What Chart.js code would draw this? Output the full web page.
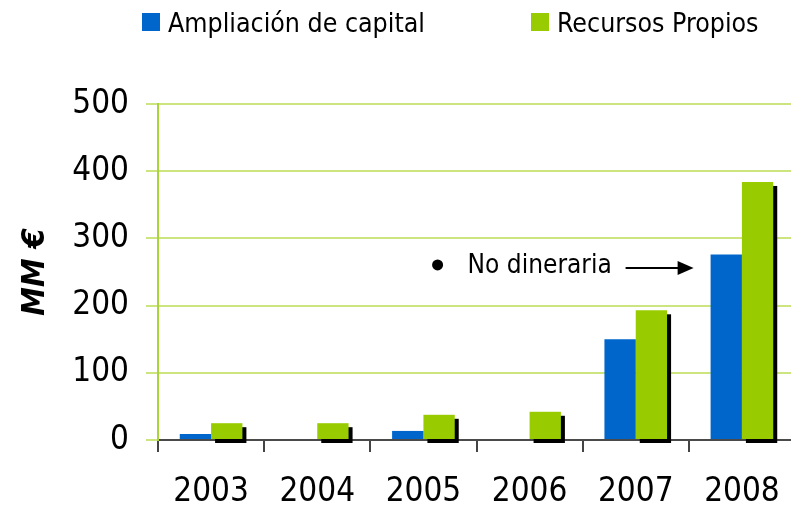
<!DOCTYPE html>
<html>
<head>
<meta charset="utf-8">
<script src="https://cdn.jsdelivr.net/npm/chart.js@4"></script>
<style>
    html, body { margin: 0; padding: 0; background: #fff; overflow: hidden; }
    #caja { position: relative; width: 791px; height: 508px; }
    #leyenda { position: absolute; top: 6px; left: 0; width: 791px; height: 34px;
               font-family: "DejaVu Sans Condensed", "DejaVu Sans", sans-serif; font-size: 26.5px; color: #000; }
    .item { position: absolute; top: 0; display: flex; align-items: center; height: 32px; }
    .cuadro { width: 18px; height: 18px; margin-right: 8px; }
</style>
</head>
<body>
<div id="caja">
    <canvas id="grafico" width="791" height="508"></canvas>
    <div id="leyenda"></div>
</div>
<script>
    // datos del grafico
    var anios = ['2003', '2004', '2005', '2006', '2007', '2008'];
    var ampliacionCapital = [9, null, 13.5, null, 150, 276];
    var recursosPropios = [25, 25, 37.5, 42, 193, 384];
    var ticksY = [0, 100, 200, 300, 400, 500];
    var nombresSeries = ['Ampliación de capital', 'Recursos Propios'];
    var coloresSeries = ['#0066cc', '#99cc00'];
    var notaTexto = 'No dineraria';
    var notaValor = 259;

    var fuente = '"DejaVu Sans Condensed", "DejaVu Sans", sans-serif';

    // leyenda en html
    var posLeyenda = [142, 531];
    nombresSeries.forEach(function (nombre, i) {
        document.getElementById('leyenda').innerHTML += `
            <div class="item" style="left:${posLeyenda[i]}px">
                <div class="cuadro" style="background:${coloresSeries[i]}"></div>
                <span>${nombre}</span>
            </div>`;
    });

    // el area del grafico sigue unos pixeles mas alla del borde derecho
    const extender = {
        id: 'extender',
        afterLayout(chart) {
            const derecha = chart.width + 4;
            chart.chartArea.right = derecha;
            chart.chartArea.width = derecha - chart.chartArea.left;
            const x = chart.scales.x;
            x.right = derecha;
            x.width = derecha - x.left;
            x.configure();
        }
    };

    // sombra negra detras de las barras verdes
    const sombra = {
        id: 'sombra',
        beforeDatasetDraw(chart, args) {
            if (args.index != 1) return;
            const ctx = chart.ctx;
            ctx.save();
            ctx.fillStyle = '#000';
            args.meta.data.forEach(function (bar) {
                const p = bar.getProps(['x', 'y', 'base', 'width'], true);
                ctx.fillRect(p.x - p.width / 2 + 4, p.y + 4, p.width, p.base - p.y);
            });
            ctx.restore();
        }
    };

    // nota "No dineraria" con flecha
    const nota = {
        id: 'nota',
        afterDatasetsDraw(chart) {
            const ctx = chart.ctx;
            const y = chart.scales.y.getPixelForValue(notaValor);
            const barra = chart.getDatasetMeta(0).data[5];
            const fin = barra.x - barra.width / 2 - 17;
            ctx.save();
            ctx.fillStyle = '#000';
            ctx.strokeStyle = '#000';
            ctx.beginPath();
            ctx.arc(fin - 256, y - 1, 5.5, 0, Math.PI * 2);
            ctx.fill();
            ctx.font = '26px ' + fuente;
            ctx.textBaseline = 'middle';
            ctx.fillText(notaTexto, fin - 226, y);
            ctx.lineWidth = 2;
            ctx.beginPath();
            ctx.moveTo(fin - 68, y + 2);
            ctx.lineTo(fin - 14, y + 2);
            ctx.stroke();
            ctx.beginPath();
            ctx.moveTo(fin, y + 2);
            ctx.lineTo(fin - 16, y - 5);
            ctx.lineTo(fin - 16, y + 9);
            ctx.closePath();
            ctx.fill();
            ctx.restore();
        }
    };

    const config = {
        type: 'bar',
        data: {
            labels: anios,
            datasets: [{
                label: nombresSeries[0],
                data: ampliacionCapital,
                backgroundColor: coloresSeries[0],
                categoryPercentage: 0.59,
                barPercentage: 1
            }, {
                label: nombresSeries[1],
                data: recursosPropios,
                backgroundColor: coloresSeries[1],
                categoryPercentage: 0.59,
                barPercentage: 1
            }]
        },
        options: {
            responsive: false,
            animation: false,
            layout: { padding: { top: 104, right: 1, left: 0, bottom: 0 } },
            plugins: { legend: { display: false }, tooltip: { enabled: false } },
            scales: {
                x: {
                    afterFit: function (scale) { scale.height = 68; },
                    border: { color: '#4a4a4a', width: 2 },
                    grid: { offset: true, drawOnChartArea: false, color: '#444', lineWidth: 2, tickLength: 12 },
                    ticks: { color: '#000', font: { family: fuente, size: 33 }, padding: 21 }
                },
                y: {
                    min: 0,
                    max: 500,
                    afterFit: function (scale) { scale.width = 158; },
                    afterBuildTicks: function (scale) { scale.ticks = ticksY.map(v => ({ value: v })); },
                    border: { color: '#a9d43c', width: 2 },
                    grid: { color: '#cde57f', lineWidth: 2, tickLength: 12 },
                    ticks: { color: '#000', font: { family: fuente, size: 33 }, padding: 17 },
                    title: {
                        display: true,
                        text: 'MM €',
                        color: '#000',
                        font: { family: fuente, size: 32, weight: 'bold', style: 'italic' },
                        padding: { top: 16, bottom: 0 }
                    }
                }
            }
        },
        plugins: [extender, sombra, nota]
    };

    let miGrafico = new Chart(document.getElementById('grafico'), config);
</script>
</body>
</html>
